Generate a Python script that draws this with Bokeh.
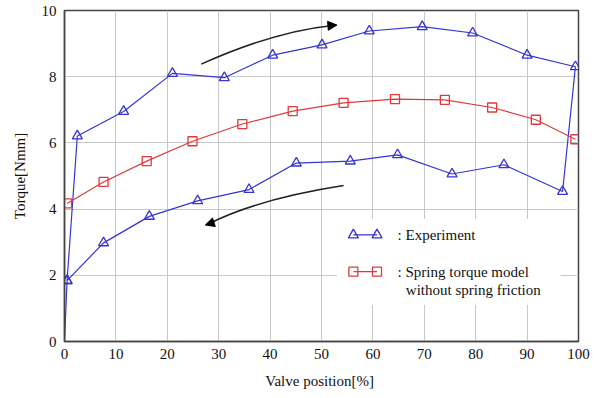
from bokeh.plotting import figure
from bokeh.models import Range1d, Arrow, NormalHead
from bokeh.core.properties import value
from bokeh.embed import file_html
from bokeh.resources import INLINE

# Experiment (hysteresis loop: opening branch then closing branch)
exp_x = [0, 0.5, 2.5, 11.5, 21.0, 31.1, 40.5, 50.1, 59.3, 69.6, 79.4, 90.0, 99.4,
         96.9, 85.5, 75.4, 64.8, 55.6, 45.1, 35.9, 25.9, 16.5, 7.6, 0.5, 0]
exp_y = [0, 1.84, 6.21, 6.95, 8.1, 7.97, 8.65, 8.96, 9.38, 9.51, 9.32, 8.65, 8.3,
         4.53, 5.34, 5.06, 5.64, 5.45, 5.39, 4.59, 4.25, 3.78, 2.98, 1.84, 0]

# Spring torque model without spring friction
mod_x = [0.5, 7.6, 16.0, 24.9, 34.6, 44.4, 54.3, 64.3, 74.0, 83.2, 91.7, 99.4]
mod_y = [4.17, 4.82, 5.45, 6.05, 6.57, 6.96, 7.21, 7.32, 7.3, 7.07, 6.7, 6.11]

x_ticks = [0, 10, 20, 30, 40, 50, 60, 70, 80, 90, 100]
y_ticks = [0, 2, 4, 6, 8, 10]

legend_labels = [": Experiment", ": Spring  torque  model", "without  spring  friction"]

BLUE = "#3535d0"
RED = "#e23a3a"
SERIF = "'Liberation Serif', 'Times New Roman', serif"

p = figure(width=601, height=398, output_backend="svg", toolbar_location=None,
           x_range=Range1d(0, 100), y_range=Range1d(0, 10),
           min_border_left=64, min_border_right=23, min_border_top=10, min_border_bottom=57)
p.background_fill_color = "white"
p.border_fill_color = "white"
p.outline_line_color = "#444444"
p.outline_line_width = 1.5

for ax in (p.xaxis[0], p.yaxis[0]):
    ax.major_label_text_font = SERIF
    ax.major_label_text_font_size = "15px"
    ax.major_label_text_color = "#111111"
    ax.axis_label_text_font = SERIF
    ax.axis_label_text_font_size = "15px"
    ax.axis_label_text_font_style = "normal"
    ax.axis_label_text_color = "#111111"
    ax.major_tick_out = 0
    ax.major_tick_in = 0
    ax.minor_tick_out = 0
    ax.minor_tick_in = 0
    ax.axis_line_color = "#444444"
    ax.axis_line_width = 1.5

p.xaxis.ticker = x_ticks
p.yaxis.ticker = y_ticks
p.xaxis.axis_label = "Valve  position[%]"
p.yaxis.axis_label = "Torque[Nmm]"
p.xaxis.major_label_standoff = 7
p.yaxis.major_label_standoff = 8
p.xaxis.axis_label_standoff = 11
p.yaxis.axis_label_standoff = 11

p.grid.grid_line_color = "#c8c8c8"
p.grid.grid_line_width = 1

# data
p.line(exp_x, exp_y, line_color=BLUE, line_width=1.2)
p.scatter(exp_x[1:-1], exp_y[1:-1], marker="triangle", size=10, fill_color=None,
          line_color=BLUE, line_width=1.3)
p.line(mod_x, mod_y, line_color=RED, line_width=1.2)
p.scatter(mod_x, mod_y, marker="square", size=9, fill_color=None,
          line_color=RED, line_width=1.3)

# direction arrows (annotation)
arr_up = dict(x0=26.6, y0=8.38, cx=40.8, cy=9.37, x1=52.2, y1=9.55)
arr_dn = dict(x0=54.3, y0=4.71, cx=37.7, cy=4.31, x1=28.0, y1=3.55)
for a, hx, hy in ((arr_up, 53.0, 9.56), (arr_dn, 27.4, 3.52)):
    p.quadratic(x0=[a["x0"]], y0=[a["y0"]], x1=[a["x1"]], y1=[a["y1"]],
                cx=[a["cx"]], cy=[a["cy"]], line_color="#222222", line_width=1.5)
    p.add_layout(Arrow(x_start=a["x1"] - (hx - a["x1"]) * 0.2, y_start=a["y1"] - (hy - a["y1"]) * 0.2,
                       x_end=hx, y_end=hy, line_width=0,
                       end=NormalHead(size=9, fill_color="black", line_color="black")))

# legend (drawn manually)
p.quad(left=[53.0], right=[96.5], bottom=[1.1], top=[3.7], fill_color="white", line_color=None)
lg_mx = [56.2, 60.8]
p.line(lg_mx, [3.22, 3.22], line_color=BLUE, line_width=1.2)
p.scatter(lg_mx, [3.22, 3.22], marker="triangle", size=10, fill_color=None, line_color=BLUE, line_width=1.3)
p.line(lg_mx, [2.11, 2.11], line_color=RED, line_width=1.2)
p.scatter(lg_mx, [2.11, 2.11], marker="square", size=9, fill_color=None, line_color=RED, line_width=1.3)
p.text(x=[64.8, 64.8, 66.4], y=[3.22, 2.11, 1.56], text=legend_labels,
       text_font=value(SERIF), text_font_size="15px", text_color="#111111",
       text_baseline="middle", text_align="left")

open("out.html", "w").write(file_html(p, INLINE))
